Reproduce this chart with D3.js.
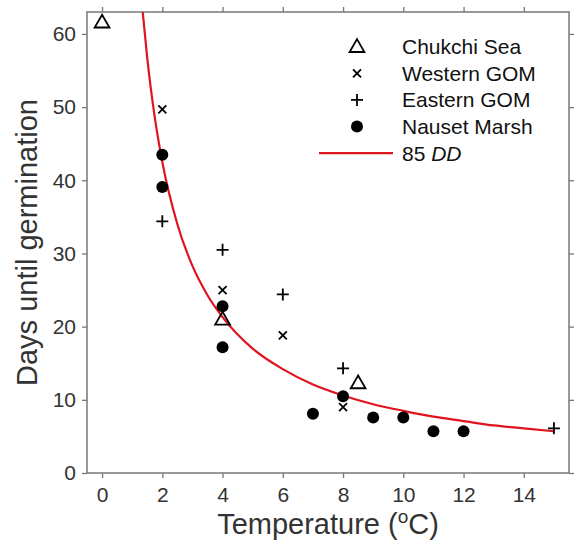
<!DOCTYPE html>
<html>
<head>
<meta charset="utf-8">
<script src="https://cdn.jsdelivr.net/npm/d3@7"></script>
<style>
  body { margin: 0; background: #fff; }
  svg { font-family: "Liberation Sans", Arial, sans-serif; }
</style>
</head>
<body>
<svg id="chart" width="579" height="552"></svg>
<script>
// data
const chukchi = [[0, 61.6], [4, 21.0], [8.5, 12.3]];
const westernGom = [[2, 49.7], [4, 25.0], [6, 18.8], [8, 9.0]];
const easternGom = [[2, 34.4], [4, 30.5], [6, 24.4], [8, 14.3], [15, 6.1]];
const nauset = [[2, 43.5], [2, 39.1], [4, 22.8], [4, 17.2], [7, 8.1], [8, 10.5],
                [9, 7.6], [10, 7.6], [11, 5.7], [12, 5.7]];
// 85 degree-day curve
const ddCurve = [[1.35, 63.0], [1.5, 56.7], [1.75, 48.6], [2, 42.5], [2.5, 34.0],
                 [3, 28.3], [3.5, 24.3], [4, 21.3], [5, 17.0], [6, 14.2], [7, 12.1],
                 [8, 10.6], [9, 9.4], [10, 8.5], [11, 7.7], [12, 7.1], [13, 6.5],
                 [14, 6.1], [15, 5.7]];
const xTicks = [0, 2, 4, 6, 8, 10, 12, 14];
const yTicks = [0, 10, 20, 30, 40, 50, 60];
const legendNames = ["Chukchi Sea", "Western GOM", "Eastern GOM", "Nauset Marsh"];

const margin = { top: 12, right: 10, bottom: 79, left: 87 };
const width = 579, height = 552;
const svg = d3.select("#chart");

const x = d3.scaleLinear().domain([-0.5, 15.5]).range([margin.left, width - margin.right]);
const y = d3.scaleLinear().domain([0, 63]).range([height - margin.bottom, margin.top]);

const axisColor = "#777";
const labelColor = "#333";

// axes, ticks outward on all four sides
const styleAxis = (g) => {
  g.select(".domain").remove();
  g.selectAll(".tick line").attr("stroke", axisColor).attr("stroke-width", 1.3);
  g.selectAll(".tick text").attr("fill", labelColor).style("font-size", "21px");
};

svg.append("g")
  .attr("transform", `translate(0,${y(0)})`)
  .call(d3.axisBottom(x).tickValues(xTicks).tickSize(5).tickPadding(9))
  .call(styleAxis);
svg.append("g")
  .attr("transform", `translate(0,${y(63)})`)
  .call(d3.axisTop(x).tickValues(xTicks).tickSize(5).tickFormat(""))
  .call(styleAxis);
svg.append("g")
  .attr("transform", `translate(${x(-0.5)},0)`)
  .call(d3.axisLeft(y).tickValues(yTicks).tickSize(5).tickPadding(6))
  .call(styleAxis);
svg.append("g")
  .attr("transform", `translate(${x(15.5)},0)`)
  .call(d3.axisRight(y).tickValues(yTicks).tickSize(5).tickFormat(""))
  .call(styleAxis);

svg.append("rect")
  .attr("x", x(-0.5)).attr("y", y(63))
  .attr("width", x(15.5) - x(-0.5)).attr("height", y(0) - y(63))
  .attr("fill", "none").attr("stroke", axisColor).attr("stroke-width", 1.5);

// axis titles
svg.append("text")
  .attr("x", (x(-0.5) + x(15.5)) / 2).attr("y", 534)
  .attr("text-anchor", "middle").attr("fill", labelColor)
  .style("font-size", "29px")
  .text("Temperature (")
  .call(t => t.append("tspan").attr("dy", -11).style("font-size", "19px").text("o"))
  .call(t => t.append("tspan").attr("dy", 11).text("C)"));

svg.append("text")
  .attr("transform", `translate(37,${(y(0) + y(63)) / 2}) rotate(-90)`)
  .attr("text-anchor", "middle").attr("fill", labelColor)
  .style("font-size", "29px")
  .text("Days until germination");

// clip for the curve
svg.append("clipPath").attr("id", "plot-clip")
  .append("rect")
  .attr("x", x(-0.5)).attr("y", y(63))
  .attr("width", x(15.5) - x(-0.5)).attr("height", y(0) - y(63));

const line = d3.line().x(d => x(d[0])).y(d => y(d[1])).curve(d3.curveMonotoneX);
svg.append("path")
  .datum(ddCurve)
  .attr("clip-path", "url(#plot-clip)")
  .attr("d", line)
  .attr("fill", "none").attr("stroke", "#e0141e").attr("stroke-width", 2.2);

// marker shapes
const triangle = d3.symbol().type(d3.symbolTriangle).size(95);
const markers = {
  tri: g => g.append("path").attr("d", triangle)
    .attr("transform", "translate(0,1)")
    .attr("fill", "none").attr("stroke", "#000").attr("stroke-width", 1.8),
  cross: g => g.append("path").attr("d", "M-4,-4L4,4M-4,4L4,-4")
    .attr("fill", "none").attr("stroke", "#000").attr("stroke-width", 1.8),
  plus: g => g.append("path").attr("d", "M-6,0H6M0,-6V6")
    .attr("fill", "none").attr("stroke", "#000").attr("stroke-width", 1.8),
  dot: g => g.append("circle").attr("r", 6).attr("fill", "#000")
};

const seriesList = [
  { data: chukchi, shape: "tri" },
  { data: westernGom, shape: "cross" },
  { data: easternGom, shape: "plus" },
  { data: nauset, shape: "dot" }
];

seriesList.forEach(s => {
  svg.append("g").selectAll("g")
    .data(s.data)
    .join("g")
    .attr("transform", d => `translate(${x(d[0])},${y(d[1])})`)
    .each(function () { markers[s.shape](d3.select(this)); });
});

// legend
const legend = svg.append("g");
const rowY = i => 46.7 + i * 26.6;
seriesList.forEach((s, i) => {
  const g = legend.append("g").attr("transform", `translate(357,${rowY(i)})`);
  markers[s.shape](g);
  legend.append("text")
    .attr("x", 402).attr("y", rowY(i)).attr("dy", "0.36em")
    .attr("fill", "#111").style("font-size", "21px")
    .text(legendNames[i]);
});
legend.append("line")
  .attr("x1", 319).attr("x2", 393).attr("y1", rowY(4)).attr("y2", rowY(4))
  .attr("stroke", "#e0141e").attr("stroke-width", 2.2);
legend.append("text")
  .attr("x", 402).attr("y", rowY(4)).attr("dy", "0.36em")
  .attr("fill", "#111").style("font-size", "21px")
  .text("85 ")
  .append("tspan").style("font-style", "italic").text("DD");
</script>
</body>
</html>
